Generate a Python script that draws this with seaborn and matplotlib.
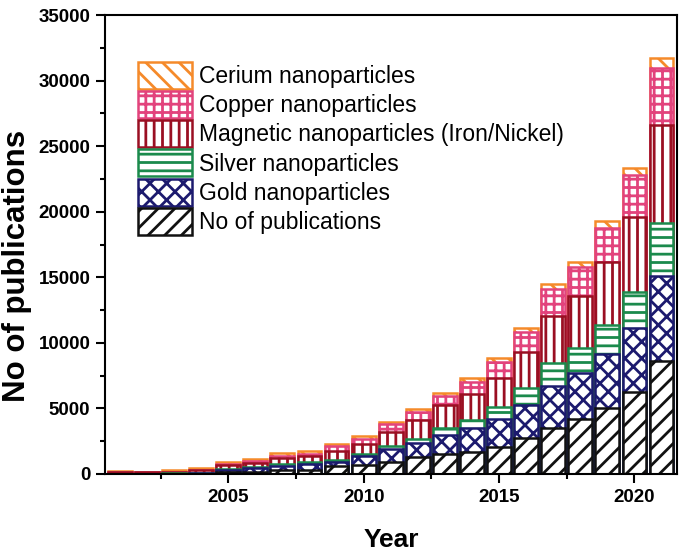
import numpy as np
import pandas as pd
import matplotlib
matplotlib.use("Agg")
import matplotlib.pyplot as plt
from matplotlib.patches import Patch
from matplotlib.ticker import MultipleLocator
import seaborn as sns

years = list(range(2001, 2022))
pubs = [10, 10, 10, 20, 130, 178, 330, 330, 580, 655, 900, 1300, 1500, 1700, 2080, 2720, 3480, 4170, 5010, 6270, 8610]
gold = [10, 10, 15, 20, 200, 254, 305, 407, 335, 686, 990, 1070, 1450, 1780, 2090, 2540, 3220, 3510, 4110, 4880, 6480]
silver = [10, 10, 15, 20, 60, 76, 127, 152, 176, 206, 280, 330, 530, 630, 910, 1270, 1730, 1900, 2230, 2740, 4020]
magnetic = [100, 90, 120, 240, 300, 330, 457, 508, 685, 762, 1065, 1450, 1790, 1960, 2260, 2790, 3610, 3990, 4830, 5720, 7490]
copper = [20, 60, 30, 30, 100, 127, 178, 152, 328, 381, 555, 550, 680, 960, 1220, 1520, 2030, 2230, 2590, 3180, 4370]
cerium = [70, 0, 80, 100, 100, 178, 203, 178, 183, 230, 210, 220, 260, 260, 300, 305, 380, 380, 510, 510, 720]

labels = ["No of publications", "Gold nanoparticles", "Silver nanoparticles",
          "Magnetic nanoparticles (Iron/Nickel)", "Copper nanoparticles", "Cerium nanoparticles"]
series = [pubs, gold, silver, magnetic, copper, cerium]
colors = ["#111111", "#1c1a6e", "#1b8a4c", "#9a0f22", "#e2437c", "#f58a2a"]
hatches = ["//", "xx", "--", "||", "++", "\\\\"]

sns.set_theme(style="ticks")
plt.rcParams["font.family"] = ["Liberation Sans", "DejaVu Sans"]
plt.rcParams["hatch.linewidth"] = 2.0
plt.rcParams["axes.linewidth"] = 1.5
plt.rcParams["text.color"] = "black"
plt.rcParams["axes.labelcolor"] = "black"
plt.rcParams["xtick.color"] = "black"
plt.rcParams["ytick.color"] = "black"
plt.rcParams["axes.edgecolor"] = "black"

fig = plt.figure(figsize=(6.83, 5.51), dpi=100)
ax = fig.add_axes([105 / 683, 77 / 551, 572 / 683, 459 / 551])

cum = np.cumsum(np.array(series, dtype=float), axis=0)
# draw from top layer down so lower segments cover upper bars
for i in range(len(series) - 1, -1, -1):
    df = pd.DataFrame({"Year": years, "val": cum[i]})
    sns.barplot(data=df, x="Year", y="val", native_scale=True, color="white",
                saturation=1, edgecolor=colors[i], hatch=hatches[i],
                linewidth=1.8, width=0.88, errorbar=None, ax=ax)

ax.set_xlim(2000.45, 2021.57)
ax.set_ylim(0, 35000)
ax.xaxis.set_major_locator(MultipleLocator(5))
ax.xaxis.set_minor_locator(MultipleLocator(2.5))
ax.yaxis.set_major_locator(MultipleLocator(5000))
ax.yaxis.set_minor_locator(MultipleLocator(2500))
ax.set_xticks([2005, 2010, 2015, 2020])
ax.set_xticklabels(["2005", "2010", "2015", "2020"])
ax.tick_params(axis="both", which="major", direction="out", length=6.5, width=1.5,
               labelsize=13.5, pad=4, colors="black")
ax.tick_params(axis="both", which="minor", direction="out", length=3.6, width=1.5,
               colors="black")
for lab in ax.get_xticklabels() + ax.get_yticklabels():
    lab.set_fontweight("bold")
for s in ax.spines.values():
    s.set_visible(True)
    s.set_linewidth(1.5)
    s.set_color("black")

ax.set_xlabel("Year", fontsize=19, fontweight="bold", labelpad=16, color="black")
ax.set_ylabel("No of publications", fontsize=22.5, fontweight="bold", color="black")
ax.yaxis.set_label_coords(-0.128, 0.453)

handles = [Patch(facecolor="white", edgecolor=colors[i], hatch=hatches[i],
                 linewidth=1.8, label=labels[i]) for i in range(len(series) - 1, -1, -1)]
ax.legend(handles=handles, loc="upper left", bbox_to_anchor=(0.058, 0.898),
          frameon=False, fontsize=16.5, handlelength=2.35, handleheight=1.43,
          handletextpad=0.3, labelspacing=0.1, borderpad=0, borderaxespad=0,
          labelcolor="black")

fig.savefig("out.png", dpi=100)
